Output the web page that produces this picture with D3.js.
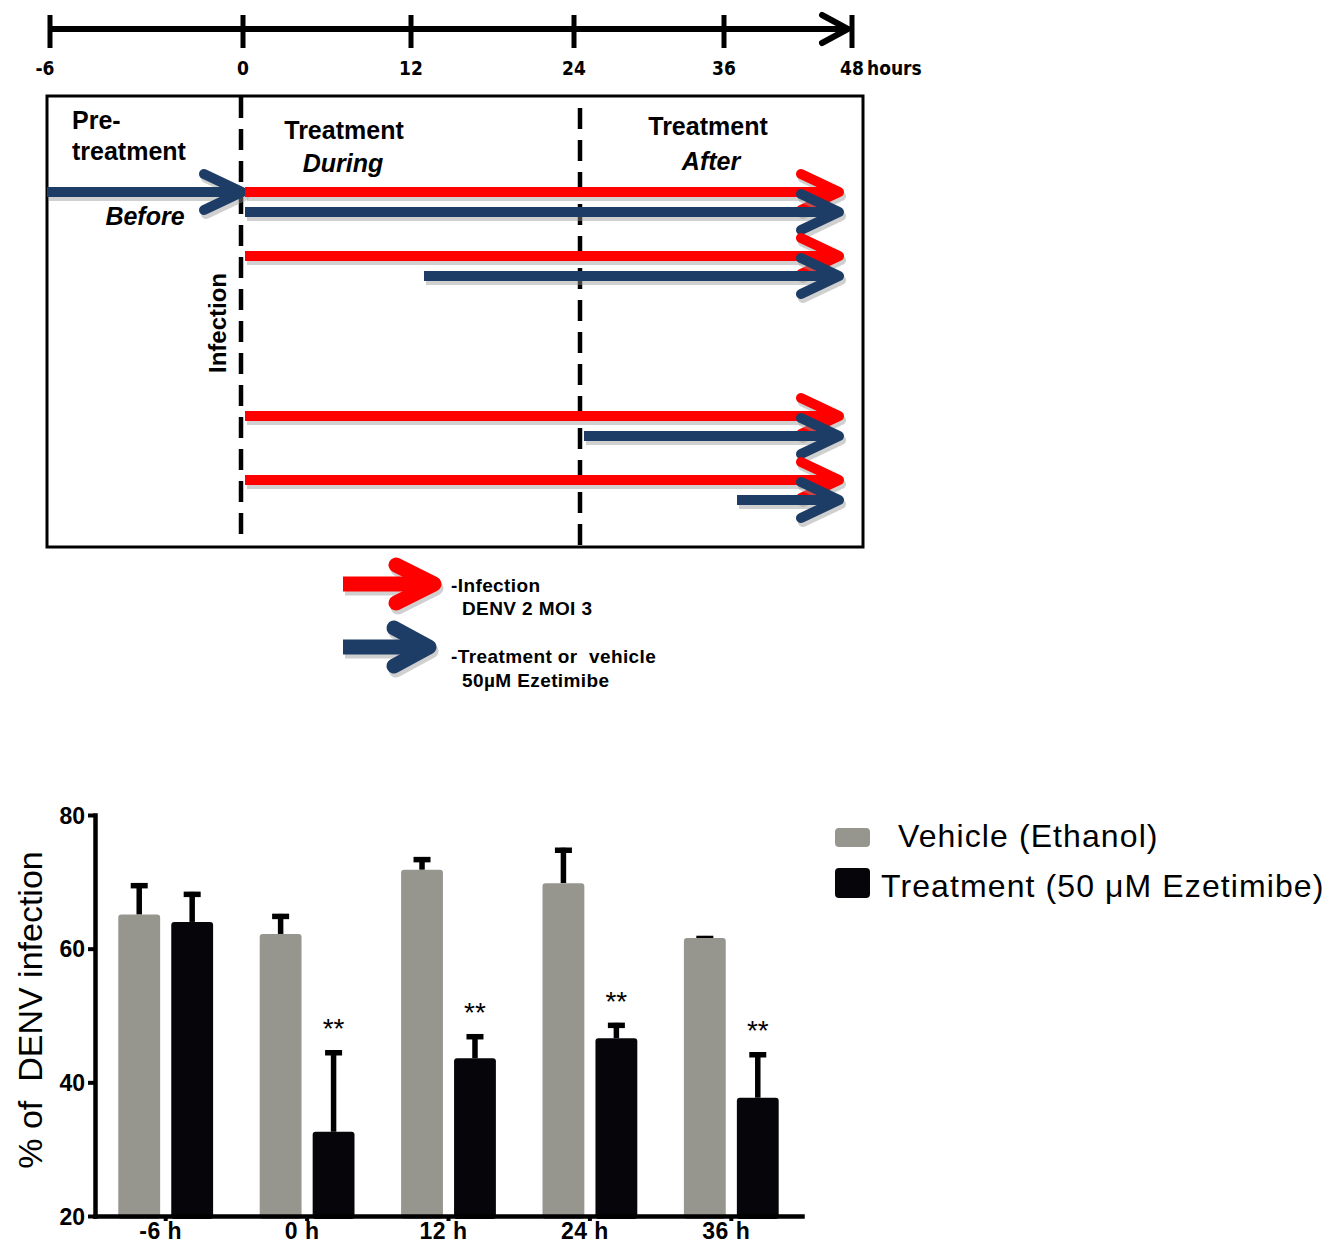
<!DOCTYPE html>
<html>
<head>
<meta charset="utf-8">
<script src="https://cdn.jsdelivr.net/npm/d3@7"></script>
<style>
  body { margin: 0; background: #fff; }
  text { font-family: Arial, "Liberation Sans", sans-serif; }
</style>
</head>
<body>
<div id="fig"></div>
<script>
// ---- timeline / protocol schematic ----
var hourTicks = [-6, 0, 12, 24, 36, 48];
var pretreat = [-6, 0];            // blue "Before" arrow
var phaseLines = [0, 24];          // dashed lines in the box
var rowSlot = [0, 1, 3.5, 4.5];    // vertical slot of each protocol row
var infectStart = [0, 0, 0, 0];
var treatStart = [0, 12, 24, 36];
var protocolEnd = 48;

// ---- bar chart ----
var groups = ["-6 h", "0 h", "12 h", "24 h", "36 h"];
var seriesNames = ["Vehicle (Ethanol)", "Treatment (50 \u03bcM Ezetimibe)"];
var vehicleMean = [65.1, 62.2, 71.8, 69.8, 61.6];
var vehicleErr = [4.7, 3.0, 1.9, 5.3, 0.3];
var treatMean = [64.0, 32.6, 43.6, 46.6, 37.7];
var treatErr = [4.5, 12.2, 3.6, 2.3, 6.8];
var signif = ["", "**", "**", "**", "**"];
var yTicks = [20, 40, 60, 80];

var RED = "#ff0000", BLUE = "#1d3d66", GREY = "#96968f", BLACK = "#06060a";

var svg = d3.select("#fig").append("svg")
    .attr("width", 1330)
    .attr("height", 1245);

svg.append("rect").attr("width", 1330).attr("height", 1245).attr("fill", "#fff");

// arrow = thick line + chevron head, with a soft grey shadow underneath
function arrow(g, xStart, xTip, y, color, w, headLen, headHalf) {
    var head = "M" + (xTip - headLen) + "," + (y - headHalf) +
        "L" + xTip + "," + y +
        "L" + (xTip - headLen) + "," + (y + headHalf);
    var sh = g.append("g").attr("transform", "translate(2,4)")
        .attr("opacity", 0.45);
    sh.append("line").attr("x1", xStart).attr("x2", xTip - w / 2)
        .attr("y1", y).attr("y2", y)
        .attr("stroke", "#999").attr("stroke-width", w);
    sh.append("path").attr("d", head).attr("fill", "none")
        .attr("stroke", "#999").attr("stroke-width", w)
        .attr("stroke-linecap", "round").attr("stroke-linejoin", "round");
    g.append("line").attr("x1", xStart).attr("x2", xTip - w / 2)
        .attr("y1", y).attr("y2", y)
        .attr("stroke", color).attr("stroke-width", w);
    g.append("path").attr("d", head).attr("fill", "none")
        .attr("stroke", color).attr("stroke-width", w)
        .attr("stroke-linecap", "round").attr("stroke-linejoin", "round");
}

// ---------- top timeline ----------
var tx = d3.scaleLinear()
    .domain(hourTicks)
    .range([50, 243, 411, 574, 724, 852]);

var narrow = "'Liberation Sans Narrow', 'DejaVu Sans Condensed', sans-serif";
var tl = svg.append("g");
tl.append("line")
    .attr("x1", tx(-6)).attr("x2", tx(48) - 3)
    .attr("y1", 29).attr("y2", 29)
    .attr("stroke", "#000").attr("stroke-width", 6);
tl.append("path")
    .attr("d", "M" + (tx(48) - 30) + ",15L" + (tx(48) - 4) + ",29L" + (tx(48) - 30) + ",43")
    .attr("fill", "none").attr("stroke", "#000").attr("stroke-width", 6)
    .attr("stroke-linecap", "round");
tl.selectAll(".tk").data(hourTicks).enter().append("line")
    .attr("x1", function (d) { return tx(d); })
    .attr("x2", function (d) { return tx(d); })
    .attr("y1", 15).attr("y2", 48)
    .attr("stroke", "#000").attr("stroke-width", 5);
tl.selectAll(".tl").data(hourTicks).enter().append("text")
    .attr("x", function (d) { return tx(d) - (d < 0 ? 5 : 0); })
    .attr("y", 75)
    .attr("text-anchor", "middle")
    .style("font-family", narrow)
    .style("font-weight", "bold").style("font-size", "19px")
    .text(function (d) { return d; });
tl.append("text")
    .attr("x", tx(48) + 15).attr("y", 75)
    .style("font-family", narrow)
    .style("font-weight", "bold").style("font-size", "19px")
    .text("hours");

// ---------- protocol box ----------
var bx = d3.scaleLinear()
    .domain(hourTicks)
    .range([47, 241, 420, 580, 733, 839]);
var rowY = d3.scaleLinear().domain([0, 1]).range([192, 256]);

var box = svg.append("g");
box.append("rect")
    .attr("x", 47).attr("y", 96).attr("width", 816).attr("height", 451)
    .attr("fill", "none").attr("stroke", "#000").attr("stroke-width", 3);

box.selectAll(".phase").data(phaseLines).enter().append("line")
    .attr("x1", function (d) { return bx(d); })
    .attr("x2", function (d) { return bx(d); })
    .attr("y1", function (d, i) { return i === 0 ? 97 : 108; })
    .attr("y2", function (d, i) { return i === 0 ? 535 : 547; })
    .attr("stroke", "#000").attr("stroke-width", 4.5)
    .attr("stroke-dasharray", "21,11");

var bold = function (sel, size) {
    return sel.style("font-weight", "bold").style("font-size", size + "px");
};
bold(box.append("text").attr("x", 72).attr("y", 129).text("Pre-"), 25);
bold(box.append("text").attr("x", 72).attr("y", 160).text("treatment"), 25);
bold(box.append("text").attr("x", 344).attr("y", 139).attr("text-anchor", "middle").text("Treatment"), 25);
bold(box.append("text").attr("x", 343).attr("y", 172).attr("text-anchor", "middle")
    .style("font-style", "italic").text("During"), 25);
bold(box.append("text").attr("x", 708).attr("y", 135).attr("text-anchor", "middle").text("Treatment"), 25);
bold(box.append("text").attr("x", 711).attr("y", 170).attr("text-anchor", "middle")
    .style("font-style", "italic").text("After"), 25);
bold(box.append("text").attr("x", 145).attr("y", 225).attr("text-anchor", "middle")
    .style("font-style", "italic").text("Before"), 25);
bold(box.append("text").attr("transform", "translate(226,323) rotate(-90)")
    .attr("text-anchor", "middle").text("Infection"), 24);

// pre-treatment arrow
arrow(box.append("g"), bx(pretreat[0]), bx(pretreat[1]) + 1, rowY(0), BLUE, 10, 38, 18);

// protocol rows: red infection then blue treatment
rowSlot.forEach(function (s, i) {
    var y = rowY(s);
    arrow(box.append("g"), bx(infectStart[i]) + 4, bx(protocolEnd), y, RED, 10, 38, 18);
    arrow(box.append("g"), bx(treatStart[i]) + 4, bx(protocolEnd), y + 20, BLUE, 10, 38, 18);
});

// ---------- schematic legend ----------
var lg = svg.append("g");
arrow(lg.append("g"), 343, 434, 584, RED, 15, 38, 19);
arrow(lg.append("g"), 343, 429, 647, BLUE, 15, 35, 19);
var legFont = function (sel) {
    return bold(sel, 19).style("letter-spacing", "0.4px").style("white-space", "pre");
};
legFont(lg.append("text").attr("x", 451).attr("y", 592).text("-Infection"));
legFont(lg.append("text").attr("x", 462).attr("y", 615).text("DENV 2 MOI 3"));
legFont(lg.append("text").attr("x", 451).attr("y", 663).text("-Treatment or  vehicle"));
legFont(lg.append("text").attr("x", 462).attr("y", 687).text("50\u00b5M Ezetimibe"));

// ---------- bar chart ----------
var y = d3.scaleLinear().domain([20, 80]).range([1216, 815]);
var x0 = d3.scaleBand().domain(groups).range([95, 802]);
var x1 = d3.scaleBand().domain([0, 1]).range([0, x0.bandwidth()])
    .paddingInner(0.21).paddingOuter(0.44);

var chart = svg.append("g");
var means = [vehicleMean, treatMean];
var errs = [vehicleErr, treatErr];
var colors = [GREY, BLACK];

var bars = [];
groups.forEach(function (g, gi) {
    [0, 1].forEach(function (s) {
        bars.push({ g: g, s: s, v: means[s][gi], e: errs[s][gi], star: s === 1 ? signif[gi] : "" });
    });
});

var cw = x1.bandwidth();

// error bars (upper only)
chart.selectAll(".stem").data(bars).enter().append("line")
    .attr("x1", function (d) { return x0(d.g) + x1(d.s) + cw / 2; })
    .attr("x2", function (d) { return x0(d.g) + x1(d.s) + cw / 2; })
    .attr("y1", function (d) { return y(d.v); })
    .attr("y2", function (d) { return y(d.v + d.e); })
    .attr("stroke", "#000").attr("stroke-width", 5.5);
chart.selectAll(".cap").data(bars).enter().append("line")
    .attr("x1", function (d) { return x0(d.g) + x1(d.s) + cw / 2 - 8.5; })
    .attr("x2", function (d) { return x0(d.g) + x1(d.s) + cw / 2 + 8.5; })
    .attr("y1", function (d) { return y(d.v + d.e) + 2.5; })
    .attr("y2", function (d) { return y(d.v + d.e) + 2.5; })
    .attr("stroke", "#000").attr("stroke-width", 5.5);

chart.selectAll(".bar").data(bars).enter().append("rect")
    .attr("x", function (d) { return x0(d.g) + x1(d.s); })
    .attr("y", function (d) { return y(d.v); })
    .attr("width", cw)
    .attr("height", function (d) { return y(20) - y(d.v) + 3; })
    .attr("rx", 3)
    .attr("fill", function (d) { return colors[d.s]; });

chart.selectAll(".star").data(bars.filter(function (d) { return d.star; })).enter().append("text")
    .attr("x", function (d) { return x0(d.g) + x1(d.s) + cw / 2; })
    .attr("y", function (d) { return y(d.v + d.e) - 12; })
    .attr("text-anchor", "middle")
    .style("font-size", "28px")
    .text(function (d) { return d.star; });

// axes
var yAxis = chart.append("g")
    .attr("transform", "translate(95,0)")
    .call(d3.axisLeft(y).tickValues(yTicks).tickSize(7).tickSizeOuter(0).tickPadding(3));
var xAxis = chart.append("g")
    .attr("transform", "translate(0,1216)")
    .call(d3.axisBottom(x0).tickSize(5).tickSizeOuter(0).tickPadding(2));

[yAxis, xAxis].forEach(function (a) {
    a.select(".domain").attr("stroke", "#000").attr("stroke-width", 4.5)
        .attr("stroke-linecap", "square");
    a.selectAll(".tick line").attr("stroke", "#000").attr("stroke-width", 4);
    a.selectAll(".tick text")
        .style("font-family", "Arial, 'Liberation Sans', sans-serif")
        .style("font-weight", "bold").style("font-size", "23px")
        .attr("fill", "#000");
});
xAxis.selectAll(".tick text").attr("dx", -5).attr("dy", "0.7em")
    .style("letter-spacing", "0.5px");
yAxis.selectAll(".tick text").attr("dy", "0.36em");

chart.append("text")
    .attr("transform", "translate(42,1010) rotate(-90)")
    .attr("text-anchor", "middle")
    .style("font-size", "34px")
    .style("white-space", "pre")
    .text("% of  DENV infection");

// legend
var leg = svg.append("g");
var legRect = [{ y: 828, h: 19 }, { y: 868, h: 30 }];
seriesNames.forEach(function (name, i) {
    leg.append("rect")
        .attr("x", 835).attr("y", legRect[i].y)
        .attr("width", 35).attr("height", legRect[i].h)
        .attr("rx", 4).attr("fill", colors[i]);
    leg.append("text")
        .attr("x", i === 0 ? 898 : 881)
        .attr("y", i === 0 ? 847 : 897)
        .style("font-size", "32px")
        .style("letter-spacing", "1.1px")
        .text(name);
});
</script>
</body>
</html>
